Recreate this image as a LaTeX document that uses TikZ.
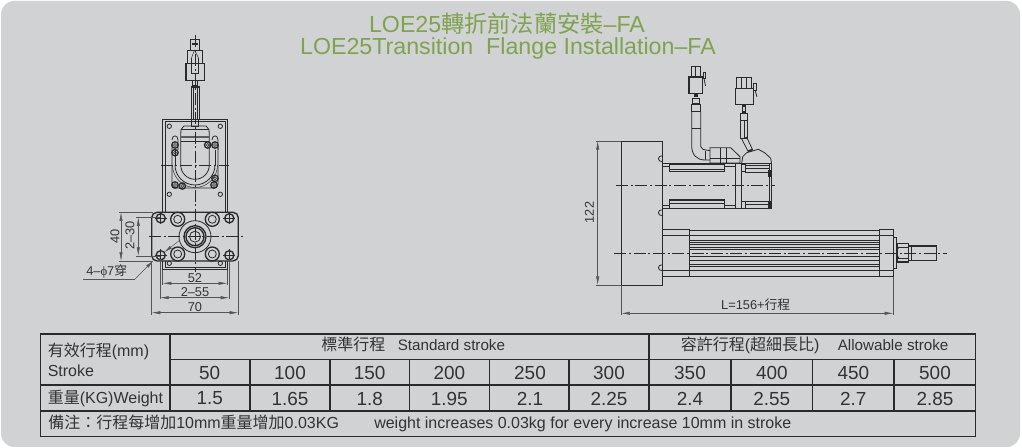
\documentclass[tikz,border=0pt]{standalone}
\usepackage{fontspec}
\setmainfont{Liberation Sans}
\newfontfamily\zhf{Noto Sans CJK TC}
\definecolor{bgc}{HTML}{D1D2D4}
\definecolor{titlec}{HTML}{7FA34E}
\definecolor{inkc}{HTML}{2A2A2A}
\definecolor{txtc}{HTML}{333333}
\definecolor{dimc}{HTML}{555555}
\tikzset{
  ln/.style={draw=inkc,line width=0.6pt},
  thk/.style={draw=inkc,line width=1pt},
  thn/.style={draw=inkc,line width=0.35pt},
  ctr/.style={draw=inkc,line width=0.4pt,dash pattern=on 9pt off 2pt on 1.5pt off 2pt},
  dimline/.style={draw=dimc,line width=0.35pt},
  dimar/.style={draw=dimc,line width=0.35pt,{Latex[length=6.5pt,width=2.4pt]}-{Latex[length=6.5pt,width=2.4pt]}},
  ldr/.style={draw=dimc,line width=0.35pt,-{Latex[length=6.5pt,width=2.4pt]}},
  dimtxt/.style={text=txtc,font=\fontsize{9.6pt}{11pt}\selectfont,inner sep=0pt},
  titletxt/.style={text=titlec,font=\fontsize{17.4pt}{20pt}\selectfont,inner sep=0pt},
  tabline/.style={draw=inkc,line width=1.1pt},
  numtxt/.style={text=txtc,font=\fontsize{14.2pt}{16pt}\selectfont,inner sep=0pt},
  headtxt/.style={text=txtc,font=\fontsize{11.4pt}{13pt}\selectfont,inner sep=0pt},
  sidetxt/.style={text=txtc,font=\fontsize{12pt}{14pt}\selectfont,inner sep=0pt},
}
\usetikzlibrary{arrows.meta}
\begin{document}
\begin{tikzpicture}[x=0.75pt,y=-0.75pt]
\useasboundingbox (0,0) rectangle (1022,448);
\fill[white] (0,0) rectangle (1022,448);
\fill[bgc,rounded corners=10pt] (1,1) rectangle (1020,447);
% title
\node[titletxt] (t1) at (507,24) {LOE25{\zhf 轉折前法蘭安裝}–FA};
\node[titletxt] (t2) at (508,49) {LOE25Transition\ \ Flange Installation–FA};
% ---------- front view
% plate
\draw[thk] (162.7,212) -- (162.7,119.3) -- (227.3,119.3) -- (227.3,212);
\draw[thk] (162.7,261) -- (162.7,269.3) -- (227.3,269.3) -- (227.3,261);
\draw[thn] (165,212) -- (165,121) -- (225,121) -- (225,212);
\draw[thn] (165,261) -- (165,267.3) -- (225,267.3) -- (225,261);
\foreach \hx/\hy in {169.3/126.3,220.3/126.3,169.3/194.3,220.3/194.3,169.3/263.3,220.3/263.3}
  \draw[ln] (\hx,\hy) circle (2.2);
% motor
\draw[ln,rounded corners=3pt] (172,145) -- (172,188) -- (218,188) -- (218,145);
\draw[ln] (172,140) .. controls (172,134.5) and (178,134.5) .. (178,140) -- (178,150);
\draw[ln] (212,140) .. controls (212,134.5) and (218,134.5) .. (218,140) -- (218,150);
\draw[ln] (175,165) arc[start angle=180,end angle=0,radius=20];
\draw[thn] (172.5,165) arc[start angle=180,end angle=0,radius=22.5];
\draw[thn] (175,150) -- (175,165);
\draw[thn] (215,150) -- (215,165);
\draw[ln] (180.7,135) -- (180.7,165) arc[start angle=180,end angle=0,radius=14.3] -- (209.3,135);
\draw[ln] (180.7,135) -- (181,129.5) -- (184,126) -- (206,126) -- (209,129.5) -- (209.3,135);
\draw[thk] (181,129.5) -- (209,129.5);
\draw[draw=inkc!70!bgc,line width=1.6pt] (180.7,137) -- (209.3,137);
\draw[thn] (180.7,141) -- (209.3,141);
\foreach \sx/\sy in {175/145,175/152.7,207.7/145,215/145,175/185,182.3/186,215/178.3,214/185}{
  \draw[thk] (\sx,\sy) circle (3.2);
  \draw[thn] (\sx,\sy) circle (1.5);
}
% cable and connector
\draw[ln] (191,86) rectangle (199.3,119.3);
\draw[ln] (191.5,119.3) rectangle (198.8,126.5);
\draw[thk] (192,87) -- (198.5,87);
\draw[thn] (193.5,86) -- (193.5,119);
\draw[thn] (196.8,86) -- (196.8,119);
\draw[thk] (192.5,80.7) rectangle (197.5,86);
\draw[thk] (186,63.3) rectangle (204.3,80.7);
\draw[ln] (187.3,50.7) rectangle (202.7,63.3);
\draw[ln] (190,39.3) rectangle (199.3,50);
\draw[thk] (192,44) -- (198,44);
\draw[ln] (191.5,58) -- (191.5,73) -- (198.5,73) -- (198.5,58);
\draw[thn] (194.5,50) -- (191.5,58);
\draw[thn] (194.5,50) -- (198.5,58);
% flange
\draw[thk,rounded corners=4pt] (151.7,212.3) rectangle (238.3,261);
\foreach \hx in {160.7,229.3}\foreach \hy in {218.3,255.3}{
  \draw[thk] (\hx,\hy) circle (4.6);
  \draw[thn] (\hx-6,\hy) -- (\hx+6,\hy);
  \draw[thn] (\hx,\hy-6) -- (\hx,\hy+6);
}
\foreach \hx in {177.7,212.3}\foreach \hy in {219.3,254}{
  \draw[thk] (\hx,\hy) circle (7);
  \draw[ln] (\hx,\hy) circle (4);
}
\draw[ln] (195,236.7) circle (16);
\draw[thk] (195,236.7) circle (11);
\draw[thk] (195,236.7) circle (9);
\draw[ln] (195,236.7) circle (5.5);
% centre lines
\draw[ctr] (195,35) -- (195,272);
\draw[ctr] (160.7,165) -- (229.3,165);
\draw[ctr] (149,236.7) -- (244,236.7);
% dimensions
\coordinate (d40a) at (121,212.3); \coordinate (d40b) at (121,261);
\coordinate (d30a) at (138.3,217.3); \coordinate (d30b) at (138.3,256);
\draw[dimline] (119,212.3) -- (153,212.3) (119,261) -- (153,261);
\draw[dimline] (136,217.3) -- (160,217.3) (136,256) -- (160,256);
\draw[dimar] (d40a) -- (d40b);
\draw[dimar] (d30a) -- (d30b);
\node[dimtxt,rotate=90] (l40) at (115,236.5) {40};
\node[dimtxt,rotate=90] (l30) at (130,235.7) {2–30};
\coordinate (d52a) at (162.7,283.3); \coordinate (d52b) at (227.3,283.3);
\coordinate (d55a) at (160,297.7); \coordinate (d55b) at (229.3,297.7);
\coordinate (d70a) at (151.7,312.7); \coordinate (d70b) at (238.3,312.7);
\draw[dimline] (162.7,270) -- (162.7,285) (227.3,270) -- (227.3,285);
\draw[dimline] (160,259) -- (160,299) (229.3,259) -- (229.3,299);
\draw[dimline] (151.7,261) -- (151.7,315) (238.3,261) -- (238.3,315);
\draw[dimar] (d52a) -- (d52b);
\draw[dimar] (d55a) -- (d55b);
\draw[dimar] (d70a) -- (d70b);
\node[dimtxt] (l52) at (195,277.7) {52};
\node[dimtxt] (l55) at (195,291.7) {2–55};
\node[dimtxt] (l70) at (195,306.7) {70};
% leader
\node[dimtxt,anchor=west] (lh) at (86,271) {4–{\fontspec{Liberation Serif}ϕ}7{\zhf 穿}};
\coordinate (la) at (83.3,279); \coordinate (lb) at (135,279); \coordinate (lc) at (153.5,260.5);
\coordinate (ld) at (180,240); \coordinate (le) at (164,252.5);
\draw[dimline] (la) -- (lb);
\draw[ldr] (lb) -- (lc);
\draw[ldr] (ld) -- (le);
% ---------- side view
% flange
\draw[ln] (621.3,141) rectangle (662.7,285);
\foreach \by in {158.7,212.7,267.7}
  \draw[ln] (662.7,\by-3) .. controls (657,\by-3.5) and (657,\by+3.5) .. (662.7,\by+3);
% motor body
\draw[ln] (662.7,163.3) -- (741.7,163.3) (662.7,208.3) -- (741.7,208.3);
\draw[ln] (662.7,166.5) -- (669.3,166.5) (662.7,205) -- (669.3,205);
\draw[ln] (724.3,166.5) -- (735,166.5) (724.3,205) -- (735,205);
\draw[thk] (669.3,164) rectangle (724.3,171.7);
\draw[thk] (669.3,200) rectangle (724.3,208.3);
\draw[thn] (669.3,169.5) -- (724.3,169.5) (669.3,203) -- (724.3,203);
\draw[thk] (735.7,163.3) -- (735.7,208.3);
\draw[thk] (741.7,163.3) -- (741.7,208.3);
% motor rear
\draw[ln] (741.7,163.3) -- (771.5,163.3) -- (771.5,208.3) -- (741.7,208.3);
\draw[ln] (741.7,163.3) -- (742.7,156.7) -- (746.7,152.7) -- (758.3,149.3) -- (765,153) -- (770.7,158.3) -- (771.5,163.3);
\draw[ln] (741.7,164) rectangle (745.7,171) (741.7,201) rectangle (745.7,208);
\draw[ln] (745.7,165) rectangle (769,172) (745.7,201) rectangle (769,208);
\draw[thn] (745.7,168) -- (769,168) (745.7,204) -- (769,204);
\draw[thk] (769,171) rectangle (771,176) (769,202) rectangle (771,208);
\draw[thn] (769,163.3) -- (769,208.3);
% left cable
\draw[ln] (691.7,111.5) -- (691.7,146) .. controls (691.7,155) and (697,160) .. (705,160) -- (710,160);
\draw[ln] (700.7,111.5) -- (700.7,146.5) .. controls (701,149) and (703,150) .. (710,150.5);
\draw[ln] (691.7,128) -- (700.7,128);
\draw[ln] (705.7,151) -- (705.7,160);
\draw[ln] (692.5,98) rectangle (699.5,103);
\draw[ln] (691.7,104) rectangle (700.7,111.5);
\draw[thk] (694,94) -- (698,94) (694,96) -- (698,96);
\draw[thk] (689,77) -- (702.5,77) -- (702.5,93.5) -- (689,93.5) -- cycle;
\draw[ln] (691,66) rectangle (700,77);
\draw[thn] (695.5,66) -- (695.5,77);
\draw[ln] (703,72) rectangle (705.5,78);
\draw[ln] (704,78) -- (705.5,86);
% left block
\draw[ln] (710,147.7) -- (730.7,147.7) -- (740,156.7) -- (740,163) -- (710,163) -- cycle;
\draw[thn] (710,158) -- (740,158) (720,148) -- (720,163) (726,148) -- (726,163);
\draw[thk] (720.5,158.5) -- (726,158.5);
% right cable
\draw[ln] (740.7,120.5) rectangle (747.3,138.5);
\draw[ln] (740.7,113) rectangle (747.3,120.5);
\draw[thk] (742.5,106) rectangle (745.5,112);
\draw[thn] (744,120.5) -- (744,138);
\draw[ln] (741.7,139) -- (746.7,137.3) -- (752.7,150) -- (748.3,151.7) -- cycle;
\draw[thk] (735.7,88.3) -- (753.3,88.3) -- (753.3,104.7) -- (735.7,104.7) -- cycle;
\draw[ln] (736.7,77.3) rectangle (751.7,88.3);
\draw[thn] (741,77.3) -- (741,88.3) (746,77.3) -- (746,88.3);
\draw[ln] (753,83) rectangle (756,90);
\draw[ln] (755,90) -- (757,97);
\draw[thk] (748,151) -- (752,149.5);
% actuator
\draw[ln] (662.7,229.3) rectangle (689.3,276.7);
\draw[ln] (662.7,235.7) -- (689.3,235.7) (662.7,270.7) -- (689.3,270.7);
\draw[ln] (689.3,230) -- (879,230) (689.3,276) -- (879,276);
\foreach \ly in {235.7,240,242.7,247.3,249.3,256,260.7,264,266,270.3}
  \draw[thn] (689.3,\ly) -- (879,\ly);
\draw[thk] (689.3,244.3) -- (879,244.3) (689.3,256.5) -- (879,256.5);
\draw[ln] (879,229.3) rectangle (893.3,276.7);
\draw[ln] (879,235.7) -- (893.3,235.7) (879,270.7) -- (893.3,270.7);
\draw[ln] (893.3,237.3) -- (896.7,237.3) -- (896.7,268.7) -- (893.3,268.7);
\draw[thk] (897.3,243.3) rectangle (908.7,262);
\draw[thn] (897.3,247) -- (908.7,247) (897.3,258.3) -- (908.7,258.3);
\draw[ln] (899,247) .. controls (896,250) and (896,255) .. (899,258.3);
\draw[thk] (908.7,246) rectangle (936.7,260.7);
\draw[thn] (911,246) -- (911,260.7);
% centre lines
\draw[ctr] (616,185.7) -- (775,185.7);
\draw[ctr] (614.3,253) -- (946.7,253);
% dimensions
\coordinate (d122a) at (597.7,141); \coordinate (d122b) at (597.7,285);
\coordinate (dLa) at (621.3,313.3); \coordinate (dLb) at (893.3,313.3);
\draw[dimline] (595.5,141) -- (621.3,141) (595.5,285) -- (621.3,285);
\draw[dimline] (621.3,285) -- (621.3,315.5) (893.3,276.7) -- (893.3,315.5);
\draw[dimar] (d122a) -- (d122b);
\draw[dimar] (dLa) -- (dLb);
\node[dimtxt,rotate=90] (l122) at (589.3,212.5) {122};
\node[dimtxt] (lL) at (755.7,304.3) {L=156+{\zhf 行程}};
% ---------- table
\draw[tabline] (40.7,334) rectangle (975.7,436.7);
\draw[tabline] (170,359.3) -- (975.7,359.3);
\draw[tabline] (40.7,385) -- (975.7,385);
\draw[tabline] (40.7,411) -- (975.7,411);
\draw[tabline] (170,334) -- (170,411);
\draw[tabline] (649,334) -- (649,411);
\foreach \vx in {250,330,409.3,489.3,569,731,812.7,894}
  \draw[tabline] (\vx,359.3) -- (\vx,411);
\foreach \tx/\sv/\wv in {209.7/50/1.5,290/100/1.65,369.7/150/1.8,449.3/200/1.95,530/250/2.1,609/300/2.25,690/350/2.4,771.8/400/2.55,853.3/450/2.7,935/500/2.85}{
  \node[numtxt] at (\tx,372.5) {\sv};
  \node[numtxt] at (\tx,398.5) {\wv};
}
\node[sidetxt,anchor=west] (h1) at (47.5,351.5) {{\zhf 有效行程}(mm)};
\node[sidetxt,anchor=west] (h2) at (47.5,371) {Stroke};
\node[sidetxt,anchor=west] (h3) at (47.5,398.5) {{\zhf 重量}(KG)Weight};
\node[sidetxt,anchor=base west] (h4) at (321,351) {{\zhf 標準行程}};
\node[headtxt,anchor=base west] (h5) at (397.5,351) {Standard stroke};
\node[sidetxt,anchor=base west] (h6) at (680.5,351) {{\zhf 容許行程}({\zhf 超細長比})};
\node[headtxt,anchor=base west] (h7) at (837.5,351) {Allowable stroke};
\node[sidetxt,anchor=base west] (h8) at (48,429) {{\zhf 備注：行程每增加}10mm{\zhf 重量增加}0.03KG};
\node[sidetxt,anchor=base west] (h9) at (374,429) {weight increases 0.03kg for every increase 10mm in stroke};
\end{tikzpicture}
\end{document}
